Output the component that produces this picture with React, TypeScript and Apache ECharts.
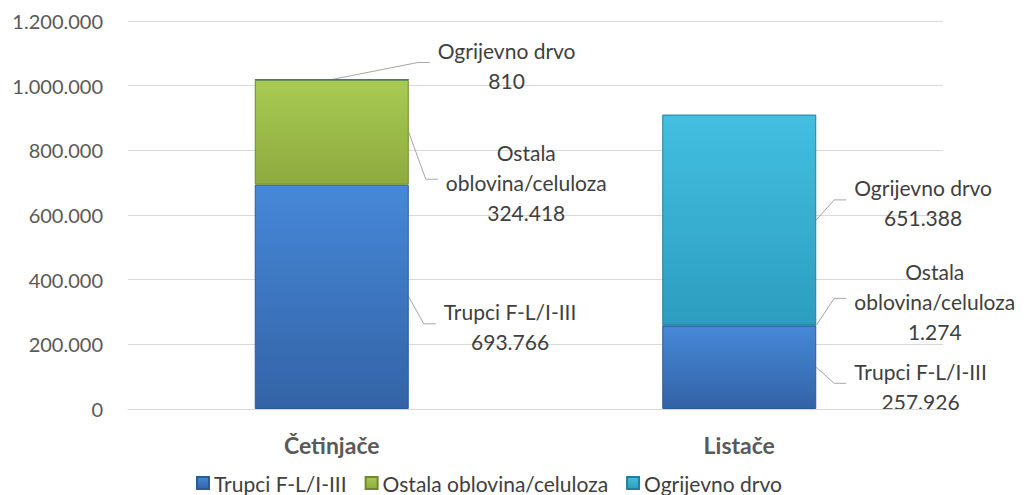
import React, { useEffect, useRef } from "react";
import * as echarts from "echarts";

const categories = ["Četinjače", "Listače"];
const seriesNames = ["Trupci F-L/I-III", "Ostala oblovina/celuloza", "Ogrijevno drvo"];
const labelNames = ["Trupci F-L/I-III", "Ostala\noblovina/celuloza", "Ogrijevno drvo"];
const trupci = [693766, 257926];
const ostala = [324418, 1274];
const ogrijevno = [810, 651388];
const yTicks = { min: 0, max: 1200000, interval: 200000 };

const seriesValues = [trupci, ostala, ogrijevno];

// leader-line layout per label: series, category, anchor kind, elbow offset
const leaderLayout = [
  { s: 0, c: 0, anchor: "right", dx: 15, dy: 27 },
  { s: 1, c: 0, anchor: "right", dx: 17, dy: 47 },
  { s: 2, c: 0, anchor: "top", dx: 86, dy: -17 },
  { s: 0, c: 1, anchor: "right", dx: 18, dy: 16 },
  { s: 1, c: 1, anchor: "right", dx: 18, dy: -27 },
  { s: 2, c: 1, anchor: "right", dx: 18, dy: -20 },
];

const FONT = "Lato, 'Noto Sans', sans-serif";
const LABEL_SIZE = 21;
const BAR_W = 154;

const fills = [
  ["#4688d8", "#3363a6", "#2d5a96"],
  ["#a9ca52", "#8dab3f", "#6f8a2e"],
  ["#43bfe1", "#2c9dbf", "#237f9c"],
];

function fmt(v: number): string {
  return String(Math.round(v)).replace(/\B(?=(\d{3})+(?!\d))/g, ".");
}

export default function App() {
  const ref = useRef<HTMLDivElement>(null);
  useEffect(() => {
    document.body.style.margin = "0";
    if (!ref.current) return;
    const chart = echarts.init(ref.current, null, { renderer: "svg" });
    const series = seriesNames.map((name, i) => ({
      name,
      type: "bar",
      stack: "total",
      barWidth: BAR_W,
      data: seriesValues[i],
      itemStyle: {
        color: new echarts.graphic.LinearGradient(0, 0, 0, 1, [
          { offset: 0, color: fills[i][0] },
          { offset: 1, color: fills[i][1] },
        ]),
        borderColor: fills[i][2],
        borderWidth: 1,
      },
    }));
    chart.setOption({
      animation: false,
      grid: { left: 128, right: 88, top: 21, bottom: 86 },
      legend: {
        data: seriesNames,
        left: 196,
        top: 472,
        padding: 0,
        itemWidth: 12,
        itemHeight: 12,
        itemGap: 18,
        icon: "rect",
        textStyle: { fontFamily: FONT, fontSize: LABEL_SIZE, lineHeight: 22, color: "#404040" },
      },
      xAxis: {
        type: "category",
        data: categories,
        axisLine: { lineStyle: { color: "#d9d9d9" } },
        axisTick: { show: false },
        axisLabel: {
          fontFamily: FONT,
          fontSize: 23,
          fontWeight: "bold",
          color: "#595959",
          margin: 24,
        },
      },
      yAxis: {
        type: "value",
        min: yTicks.min,
        max: yTicks.max,
        interval: yTicks.interval,
        axisLine: { show: false },
        axisTick: { show: false },
        splitLine: { lineStyle: { color: "#d9d9d9" } },
        axisLabel: {
          fontFamily: FONT,
          fontSize: 20,
          color: "#595959",
          margin: 25,
          formatter: (v: number) => fmt(v),
        },
      },
      series,
    });

    const canvas = document.createElement("canvas");
    const ctx = canvas.getContext("2d")!;
    ctx.font = LABEL_SIZE + "px " + FONT;

    const graphics: any[] = [];
    leaderLayout.forEach((L) => {
      const vals = seriesValues;
      let base = 0;
      for (let k = 0; k < L.s; k++) base += vals[k][L.c];
      const v = vals[L.s][L.c];
      let ax: number, ay: number;
      if (L.anchor === "top") {
        const p = chart.convertToPixel({ xAxisIndex: 0, yAxisIndex: 0 }, [L.c, base + v]) as number[];
        ax = p[0];
        ay = p[1];
      } else {
        const p = chart.convertToPixel({ xAxisIndex: 0, yAxisIndex: 0 }, [L.c, base + v / 2]) as number[];
        ax = p[0] + BAR_W / 2;
        ay = p[1];
      }
      const ex = ax + L.dx;
      const ey = ay + L.dy;
      const hx = ex + 12;
      graphics.push({
        type: "polyline",
        shape: { points: [[ax, ay], [ex, ey], [hx, ey]] },
        style: { stroke: "#a6a6a6", lineWidth: 1, fill: "none" },
        silent: true,
      });
      const text = labelNames[L.s] + "\n" + fmt(v);
      const w = Math.max(...text.split("\n").map((t) => ctx.measureText(t).width));
      graphics.push({
        type: "text",
        x: hx + 8 + w / 2,
        y: ey + 3,
        style: {
          text,
          fill: "#404040",
          font: LABEL_SIZE + "px " + FONT,
          align: "center",
          verticalAlign: "middle",
          lineHeight: 30,
        },
        silent: true,
      });
    });
    chart.setOption({ graphic: graphics });

    return () => chart.dispose();
  }, []);
  return <div ref={ref} style={{ width: 1031, height: 495 }} />;
}
